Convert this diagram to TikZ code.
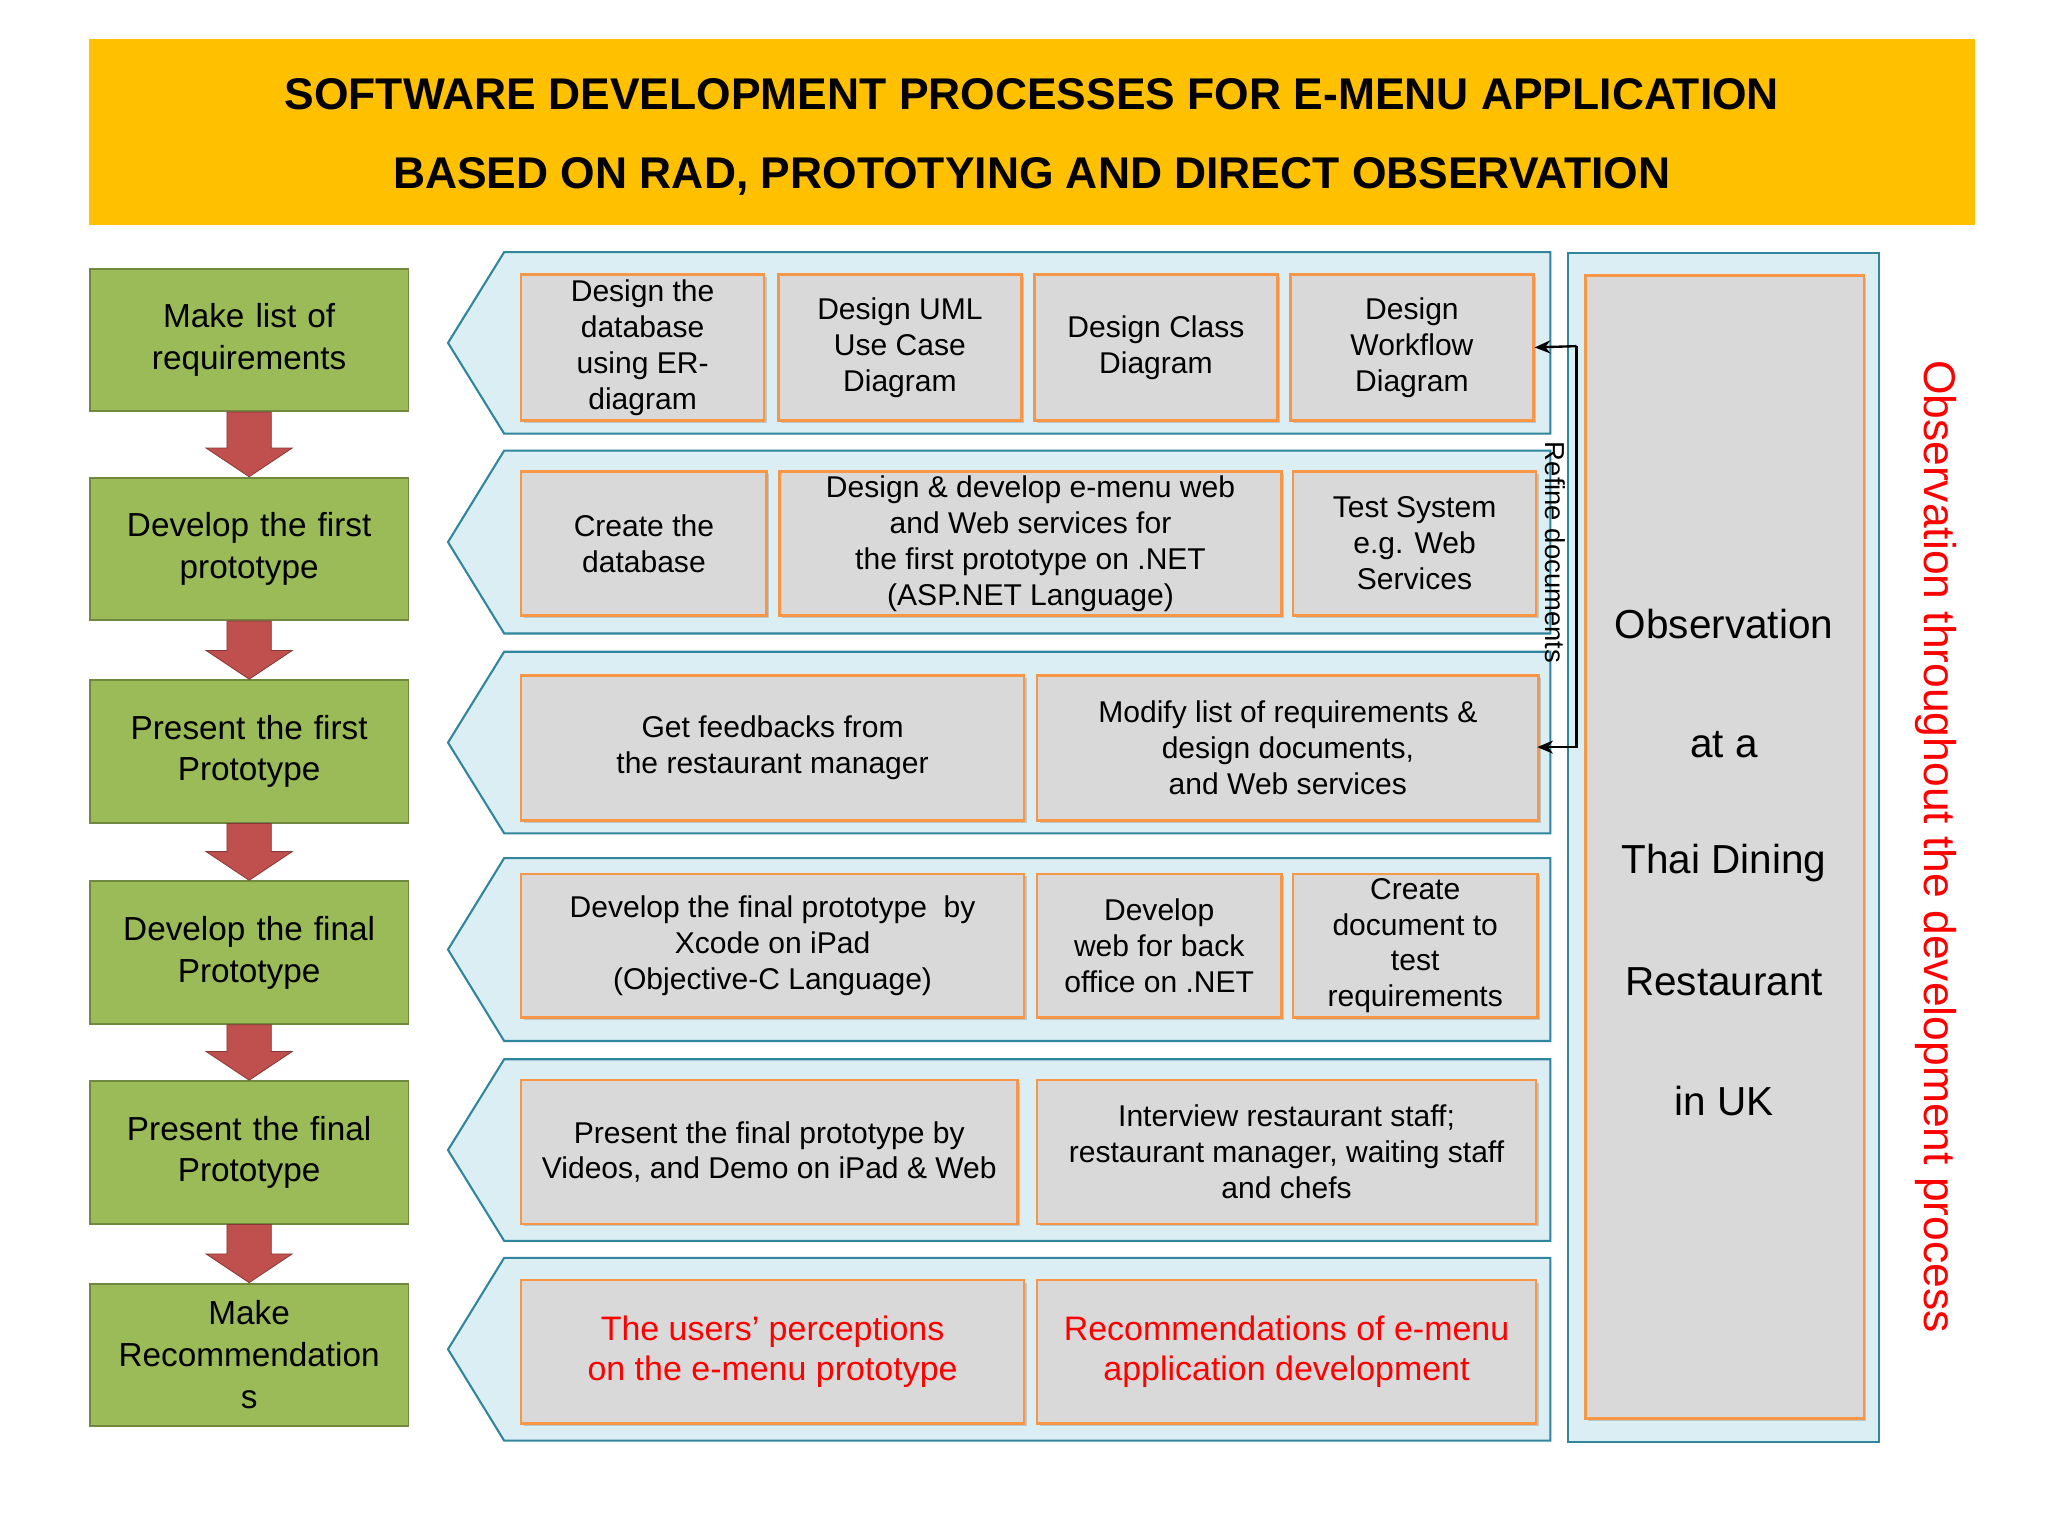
\documentclass[tikz,border=0pt]{standalone}
\usepackage{fontspec}
\setmainfont{Liberation Sans}
\usetikzlibrary{shadows,calc,arrows.meta}
\definecolor{gold}{HTML}{FFC000}
\definecolor{grn}{HTML}{9BBB59}
\definecolor{grnb}{HTML}{71893F}
\definecolor{redar}{HTML}{C0504D}
\definecolor{lblue}{HTML}{DAEEF3}
\definecolor{teal}{HTML}{31859C}
\definecolor{gry}{HTML}{D9D9D9}
\definecolor{org}{HTML}{F79646}
\begin{document}
\begin{tikzpicture}[x=1pt,y=-1pt,
 greenbox/.style={draw=grnb,line width=1.5pt,fill=grn,align=center,font=\fontsize{25.5}{32}\selectfont},
 graybox/.style={draw=org,line width=2pt,fill=gry,align=center,drop shadow={shadow xshift=2pt,shadow yshift=-2pt,opacity=0.35}},
 boxtext/.style={align=center,font=\fontsize{23}{27.5}\selectfont},
 band/.style={draw=teal,line width=1.6pt,fill=lblue},
 downarrow/.style={fill=redar,draw=redar!70!black,line width=0.6pt}]
\useasboundingbox (0,0) rectangle (1568,1176);
\fill[white] (0,0) rectangle (1568,1176);
% title
\node[fill=gold,minimum width=1444pt,minimum height=142pt,anchor=north west,inner sep=0pt] (title) at (68,30) {};
\node[font=\fontsize{34}{40}\bfseries] (t1) at (790,72) {SOFTWARE DEVELOPMENT PROCESSES FOR E-MENU APPLICATION};
\node[font=\fontsize{34}{40}\bfseries] (t2) at (790,135) {BASED ON RAD, PROTOTYING AND DIRECT OBSERVATION};
% green boxes
\def\gbox#1#2#3#4{\node[greenbox,minimum width=244pt,minimum height=#3pt,anchor=north west,inner sep=0pt,text width=240pt] (#1) at (68,#2) {}; \node[greenbox,draw=none,fill=none,text width=240pt] at (#1.center) {#4};}
\gbox{g1}{205}{109}{Make list of\\requirements}
\gbox{g2}{365}{109}{Develop the first\\prototype}
\gbox{g3}{520}{109}{Present the first\\Prototype}
\gbox{g4}{674}{109}{Develop the final\\Prototype}
\gbox{g5}{827}{109}{Present the final\\Prototype}
\gbox{g6}{982}{109}{Make\\Recommendation\\s}
% arrows
\foreach \a/\b in {g1/g2,g2/g3,g3/g4,g4/g5,g5/g6}{
 \path (\a.south) coordinate (s) (\b.north) coordinate (e);
 \draw[downarrow] ($(s)+(-17,0)$) -- ($(s)+(17,0)$) -- ($(e)+(17,-22)$) -- ($(e)+(33,-22)$) -- (e) -- ($(e)+(-33,-22)$) -- ($(e)+(-17,-22)$) -- cycle;
}
% bands
\foreach \n/\t/\bt in {b1/193/332,b2/345/485,b3/499/638,b4/657/797,b5/811/950,b6/963/1103}{
 \draw[band] (1187,\t) -- (386,\t) -- (343,{(\t+\bt)/2}) -- (386,\bt) -- (1187,\bt) -- cycle;
}
\def\gb#1#2#3#4#5#6{\node[graybox,minimum width={#3-#2},minimum height={#5-#4},inner sep=0pt,anchor=north west] (#1) at (#2,#4) {}; \node[boxtext] at (#1.center) {#6};}
\gb{r1a}{398}{584}{209}{321}{Design the\\database\\using ER-\\diagram}
\gb{r1b}{595}{781}{209}{321}{Design UML\\Use Case\\Diagram}
\gb{r1c}{791}{977}{209}{321}{Design Class\\Diagram}
\gb{r1d}{987}{1173}{209}{321}{Design\\Workflow\\Diagram}
\gb{r2a}{398}{586}{360}{470}{Create the\\database}
\gb{r2b}{596}{980}{360}{470}{Design \& develop e-menu web\\and Web services for\\the first prototype on .NET\\(ASP.NET Language)}
\gb{r2c}{989}{1175}{360}{470}{Test System\\e.g. Web\\Services}
\gb{r3a}{398}{783}{516}{627}{Get feedbacks from\\the restaurant manager}
\gb{r3b}{793}{1177}{516}{627}{Modify list of requirements \&\\design documents,\\and Web services}
\gb{r4a}{398}{783}{668}{778}{Develop the final prototype\ \ by\\Xcode on iPad\\(Objective-C Language)}
\gb{r4b}{793}{980}{668}{778}{Develop\\web for back\\office on .NET}
\gb{r4c}{989}{1176}{668}{778}{Create\\document to\\test\\requirements}
\gb{r5a}{398}{778}{826}{936}{Present the final prototype by\\Videos, and Demo on iPad \& Web}
\gb{r5b}{793}{1175}{826}{936}{Interview restaurant staff;\\restaurant manager, waiting staff\\and chefs}
\gb{r6a}{398}{783}{979}{1089}{}
\node[align=center,text=red,font=\fontsize{26}{31}\selectfont] at (r6a.center) {The users’ perceptions\\on the e-menu prototype};
\gb{r6b}{793}{1175}{979}{1089}{}
\node[align=center,text=red,font=\fontsize{26}{31}\selectfont] at (r6b.center) {Recommendations of e-menu\\application development};
% right panel
\node[band,minimum width=238pt,minimum height=910pt,anchor=north west,inner sep=0pt] (rp) at (1200,193) {};
\node[graybox,minimum width=213pt,minimum height=875pt,anchor=north west,inner sep=0pt] (obs) at (1213,210) {};
\foreach \txt/\yy in {Observation/478,at a/570,Thai Dining/661,Restaurant/752,in UK/843}
 \node[font=\fontsize{31}{36}\selectfont] at (1320,\yy) {\txt};
\node[rotate=-90,text=red,font=\fontsize{34}{38}\selectfont] (obst) at (1482,648) {Observation throughout the development process};
% refine arrow
\coordinate (k1) at (1207,265);
\coordinate (k2) at (1207,572);
\draw[-{Stealth[length=12pt,width=10pt]},line width=1.8pt] (k1) -- (r1d.east);
\draw[-{Stealth[length=12pt,width=10pt]},line width=1.8pt] (k1) -- (k2) -- (1177,572);
\node[rotate=-90,font=\fontsize{21}{24}\selectfont] (ref) at (1191,423) {Refine documents};
\end{tikzpicture}
\end{document}
